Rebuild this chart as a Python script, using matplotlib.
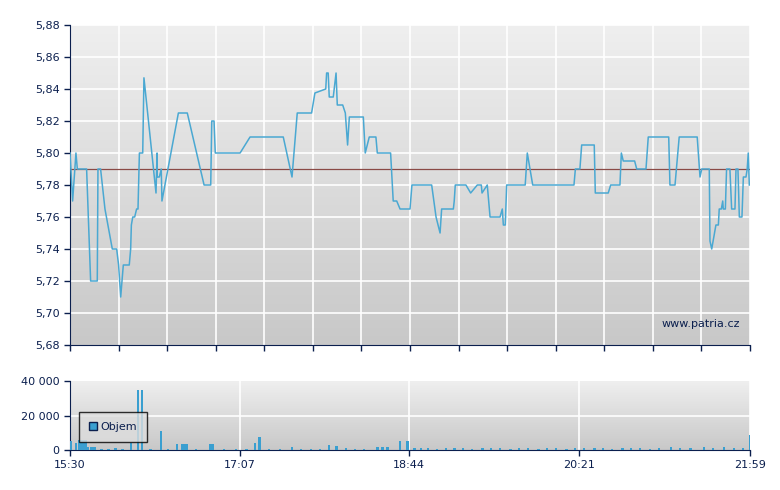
import matplotlib
matplotlib.use("Agg")
import matplotlib.pyplot as plt
import numpy as np

# minutes after 15:30
price_t = [0, 1.5, 3.4, 4.2, 9.5, 11.8, 15.6, 16, 17.5, 20, 24.2, 26.7, 27.8, 29, 30.5, 33.9, 34.7, 35.1,
           35.9, 37, 38.1, 38.9, 39.7, 41.6, 42.3, 49.2, 49.8, 49.9, 51.1, 52.2, 52.6, 62, 67.1, 76.7, 80.5,
           81.1, 82.4, 83.1, 97.3, 103, 122, 127, 130, 138.2, 140.1, 146.3, 146.8, 147.7, 148.3, 150.6,
           152.2, 152.9, 156, 157.5, 158.8, 159.8, 167.8, 168.9, 171.2, 175, 175.8, 183.4, 184.9, 186.9,
           188.8, 194.5, 195.6, 206.9, 209.4, 211.7, 212.6, 219.3, 219.8, 220.4, 226.5, 229.2, 233, 235.3,
           235.7, 238.7, 240.3, 246, 247.3, 247.9, 249, 249.8, 260.4, 261.6, 264.7, 288.3, 289.1, 291.7,
           292.7, 299.9, 300.5, 307.9, 309.3, 314.6, 315.4, 316.5, 323, 324.2, 329.5, 330.8, 342.5, 343.2,
           346.1, 348.5, 358.8, 360.4, 361.4, 365.7, 366.1, 367.1, 369.5, 370.9, 371.4, 372.6, 373.4, 373.7,
           374.9, 375.6, 377.5, 378.5, 380.4, 381, 382.1, 382.9, 384.4, 385.2, 386.7, 387.4, 388, 388.6]
price_v = [5.80, 5.77, 5.80, 5.79, 5.79, 5.72, 5.72, 5.79, 5.79, 5.765, 5.74, 5.74, 5.73, 5.71, 5.73, 5.73,
           5.74, 5.755, 5.76, 5.76, 5.765, 5.765, 5.80, 5.80, 5.847, 5.775, 5.80, 5.785, 5.785, 5.79, 5.77,
           5.825, 5.825, 5.78, 5.78, 5.82, 5.82, 5.80, 5.80, 5.81, 5.81, 5.785, 5.825, 5.825, 5.8375, 5.84,
           5.85, 5.85, 5.835, 5.835, 5.85, 5.83, 5.83, 5.825, 5.805, 5.8225, 5.8225, 5.80, 5.81, 5.81, 5.80,
           5.80, 5.77, 5.77, 5.765, 5.765, 5.78, 5.78, 5.76, 5.75, 5.765, 5.765, 5.77, 5.78, 5.78, 5.775,
           5.78, 5.78, 5.775, 5.78, 5.76, 5.76, 5.765, 5.755, 5.755, 5.78, 5.78, 5.80, 5.78, 5.78, 5.79,
           5.79, 5.805, 5.805, 5.775, 5.775, 5.78, 5.78, 5.80, 5.795, 5.795, 5.79, 5.79, 5.81, 5.81, 5.78,
           5.78, 5.81, 5.81, 5.785, 5.79, 5.79, 5.745, 5.74, 5.755, 5.755, 5.765, 5.765, 5.77, 5.765, 5.765,
           5.79, 5.79, 5.765, 5.765, 5.79, 5.79, 5.76, 5.76, 5.785, 5.785, 5.79, 5.80, 5.78]
ref_price = 5.79

vol_t = [0.6, 3.4, 5.4, 7.1, 8.8, 10.5, 12.3, 14, 18, 22, 26, 30, 34.8, 39, 41, 46, 51.9, 56, 61.3, 63.9,
         65.3, 66.7, 72, 80.4, 81.8, 88, 95, 101, 106, 108.4, 114, 120, 126.9, 132, 138, 143, 148, 152.5,
         158, 163, 168, 175.9, 178.8, 181.6, 188.8, 193, 197, 201, 205, 210, 215, 220, 225, 230, 236, 241,
         246, 252, 257, 262, 268, 273, 278, 284, 289, 294, 300, 305, 310, 316, 321, 326, 332, 337, 344,
         349, 355, 362.7, 368, 374, 380, 385, 388.9]
vol_v = [5400, 4000, 5800, 5800, 5800, 2000, 2000, 2000, 800, 600, 900, 700, 4000, 35000, 35000, 700,
         11000, 600, 3600, 3600, 3600, 3600, 500, 3600, 3600, 600, 500, 700, 3800, 7500, 600, 500, 2000,
         700, 800, 600, 2800, 2500, 900, 700, 800, 2000, 2000, 2000, 5000, 5000, 1200, 1000, 900, 800,
         1100, 900, 1000, 800, 1200, 900, 1000, 800, 900, 1100, 800, 1000, 900, 800, 1000, 1200, 900,
         1000, 800, 900, 1100, 1000, 800, 900, 2000, 900, 1000, 2000, 1100, 2000, 1200, 1000, 8700]

T_END = 389
navy = "#0b1f4e"
line_c = "#4aa8d2"

fig = plt.figure(figsize=(7.8, 4.9), dpi=100)
ax = fig.add_axes([70/780, 1-345/490, 680/780, 320/490])
axv = fig.add_axes([70/780, 1-450/490, 680/780, 69/490])

grad = np.linspace(0, 1, 256).reshape(-1, 1)
cmap = matplotlib.colors.LinearSegmentedColormap.from_list("g", ["#c8c8c8", "#efefef"])
for a, y0, y1 in [(ax, 5.68, 5.88), (axv, 0, 40000)]:
    a.imshow(grad, cmap=cmap, origin="lower", aspect="auto", extent=[0, T_END, y0, y1], zorder=0)
    a.set_xlim(0, T_END)
    a.set_ylim(y0, y1)
    for s in ["top", "right"]:
        a.spines[s].set_visible(False)
    for s in ["left", "bottom"]:
        a.spines[s].set_color(navy)
    a.tick_params(colors=navy, labelsize=8, length=4, width=1)

# main
xt = np.linspace(0, T_END, 15)
ax.set_xticks(xt)
ax.set_xticklabels([])
yt = np.round(np.arange(5.68, 5.881, 0.02), 2)
ax.set_yticks(yt)
ax.set_yticklabels([f"{v:.2f}".replace(".", ",") for v in yt])
for x in xt[1:]:
    ax.axvline(x, color="white", lw=1.2, zorder=1)
for y in yt[1:]:
    ax.axhline(y, color="white", lw=1.2, zorder=1)
ax.axhline(ref_price, color="#8a4a46", lw=0.9, zorder=2)
ax.plot(price_t, price_v, color=line_c, lw=1.1, zorder=3)
ax.text(0.985, 0.065, "www.patria.cz", transform=ax.transAxes, ha="right", va="center",
        color=navy, fontsize=8)

# volume
vx = [0, 97, 194, 291, 389]
axv.set_xticks(vx)
axv.set_xticklabels(["15:30", "17:07", "18:44", "20:21", "21:59"])
axv.set_yticks([0, 20000, 40000])
axv.set_yticklabels(["0", "20 000", "40 000"])
for x in vx[1:]:
    axv.axvline(x, color="white", lw=1.2, zorder=1)
axv.axhline(20000, color="white", lw=1.2, zorder=1)
axv.bar(vol_t, vol_v, width=1.3, color="#3a9fd0", zorder=3, label="Objem")
leg = axv.legend(loc="upper left", bbox_to_anchor=(0.005, 0.63), fontsize=8, frameon=True,
                 fancybox=False, handlelength=0.7, handleheight=0.7, handletextpad=0.3,
                 borderpad=0.9, facecolor="#dddddd", edgecolor="black")
leg.get_frame().set_linewidth(1)
for h in leg.legend_handles:
    h.set_edgecolor(navy)
for t in leg.get_texts():
    t.set_color(navy)

fig.savefig("out.png", dpi=100)
